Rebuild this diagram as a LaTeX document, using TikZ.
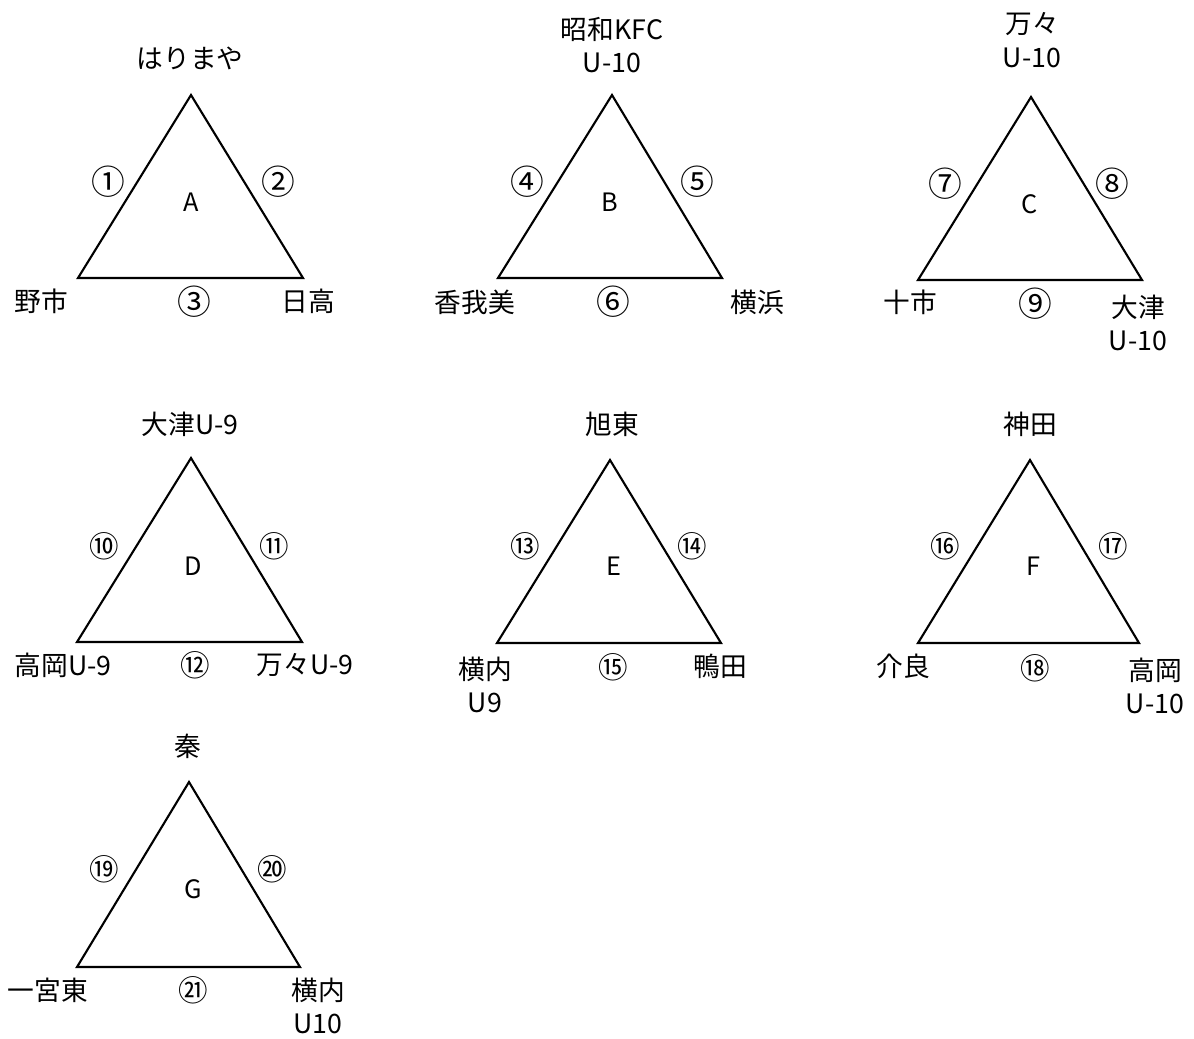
\documentclass[tikz,border=0pt]{standalone}
\usepackage{fontspec}
\setmainfont{Noto Sans CJK JP}
\usetikzlibrary{positioning}

\begin{document}
\begin{tikzpicture}[
	x=0.025cm, y=-0.025cm,
	side/.style={line width=1.5pt, line join=miter},
	team/.style={font=\fontsize{19}{24}\selectfont, align=center, inner sep=0pt},
	game/.style={font=\fontsize{24}{24}\selectfont, inner sep=0pt},
	gamewide/.style={font=\fontsize{21}{21}\selectfont, inner sep=0pt},
	group/.style={font=\fontsize{18}{20}\selectfont, inner sep=0pt}
	]

	\useasboundingbox (0,0) rectangle (1194,1038);

	% group A
	\coordinate (a1) at (191,95);
	\coordinate (a2) at (78,278);
	\coordinate (a3) at (303,278);
	\draw[side] (a1) -- (a2) -- (a3) -- cycle;
	\node[group] (gA) at (191,202) {A};
	\node[team] (tA1) at (190,58) {はりまや};
	\node[team] (tA2) at (41,301) {野市};
	\node[team] (tA3) at (308,301) {日高};
	\node[game] (m1) at (108,182) {①};
	\node[game] (m2) at (278,182) {②};
	\node[game] (m3) at (194,302) {③};

	% group B
	\coordinate (b1) at (612,95);
	\coordinate (b2) at (498,278);
	\coordinate (b3) at (722,278);
	\draw[side] (b1) -- (b2) -- (b3) -- cycle;
	\node[group] (gB) at (610,202) {B};
	\node[team] (tB1) at (612,45) {昭和KFC\\U-10};
	\node[team] (tB2) at (475,302) {香我美};
	\node[team] (tB3) at (757,302) {横浜};
	\node[game] (m4) at (527,182) {④};
	\node[game] (m5) at (697,182) {⑤};
	\node[game] (m6) at (613,302) {⑥};

	% group C
	\coordinate (c1) at (1031,97);
	\coordinate (c2) at (918,280);
	\coordinate (c3) at (1142,280);
	\draw[side] (c1) -- (c2) -- (c3) -- cycle;
	\node[group] (gC) at (1030,204) {C};
	\node[team] (tC1) at (1032,40) {万々\\U-10};
	\node[team] (tC2) at (910,302) {十市};
	\node[team] (tC3) at (1138,323) {大津\\U-10};
	\node[game] (m7) at (945,184) {⑦};
	\node[game] (m8) at (1112,184) {⑧};
	\node[game] (m9) at (1035,304) {⑨};

	% group D
	\coordinate (d1) at (191,458);
	\coordinate (d2) at (77,642);
	\coordinate (d3) at (302,642);
	\draw[side] (d1) -- (d2) -- (d3) -- cycle;
	\node[group] (gD) at (193,566) {D};
	\node[team] (tD1) at (190,424) {大津U-9};
	\node[team] (tD2) at (63,665) {高岡U-9};
	\node[team] (tD3) at (305,665) {万々U-9};
	\node[gamewide] (m10) at (104,546) {⑩};
	\node[gamewide] (m11) at (274,546) {⑪};
	\node[gamewide] (m12) at (195,665) {⑫};

	% group E
	\coordinate (e1) at (610,460);
	\coordinate (e2) at (497,643);
	\coordinate (e3) at (721,643);
	\draw[side] (e1) -- (e2) -- (e3) -- cycle;
	\node[group] (gE) at (614,566) {E};
	\node[team] (tE1) at (612,424) {旭東};
	\node[team] (tE2) at (485,685) {横内\\U9};
	\node[team] (tE3) at (720,666) {鴨田};
	\node[gamewide] (m13) at (525,546) {⑬};
	\node[gamewide] (m14) at (692,546) {⑭};
	\node[gamewide] (m15) at (613,667) {⑮};

	% group F
	\coordinate (f1) at (1030,460);
	\coordinate (f2) at (918,643);
	\coordinate (f3) at (1139,643);
	\draw[side] (f1) -- (f2) -- (f3) -- cycle;
	\node[group] (gF) at (1033,566) {F};
	\node[team] (tF1) at (1030,424) {神田};
	\node[team] (tF2) at (903,666) {介良};
	\node[team] (tF3) at (1155,686) {高岡\\U-10};
	\node[gamewide] (m16) at (945,546) {⑯};
	\node[gamewide] (m17) at (1113,546) {⑰};
	\node[gamewide] (m18) at (1035,668) {⑱};

	% group G
	\coordinate (g1) at (189,782);
	\coordinate (g2) at (77,967);
	\coordinate (g3) at (300,967);
	\draw[side] (g1) -- (g2) -- (g3) -- cycle;
	\node[group] (gG) at (193,889) {G};
	\node[team] (tG1) at (188,746) {秦};
	\node[team] (tG2) at (48,990) {一宮東};
	\node[team] (tG3) at (318,1006) {横内\\U10};
	\node[gamewide] (m19) at (104,869) {⑲};
	\node[gamewide] (m20) at (272,869) {⑳};
	\node[gamewide] (m21) at (193,990) {㉑};

\end{tikzpicture}
\end{document}
